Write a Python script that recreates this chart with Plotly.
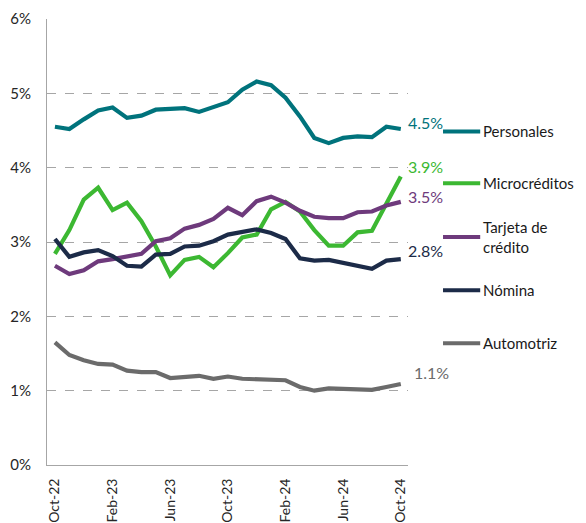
import plotly.graph_objects as go

months = ["Oct-22","Nov-22","Dec-22","Jan-23","Feb-23","Mar-23","Apr-23","May-23","Jun-23",
          "Jul-23","Aug-23","Sep-23","Oct-23","Nov-23","Dec-23","Jan-24","Feb-24","Mar-24",
          "Apr-24","May-24","Jun-24","Jul-24","Aug-24","Sep-24","Oct-24"]
tick_labels = ["Oct-22","Feb-23","Jun-23","Oct-23","Feb-24","Jun-24","Oct-24"]

personales = [4.55,4.52,4.65,4.77,4.81,4.67,4.70,4.78,4.79,4.80,4.75,4.82,4.88,
              5.05,5.16,5.11,4.94,4.69,4.40,4.33,4.40,4.42,4.41,4.55,4.52]
microcreditos = [2.84,3.16,3.57,3.73,3.43,3.53,3.28,2.94,2.55,2.76,2.80,2.66,2.85,
                 3.06,3.10,3.44,3.54,3.41,3.16,2.95,2.95,3.13,3.15,3.52,3.88]
tarjeta = [2.68,2.57,2.62,2.74,2.77,2.80,2.84,3.01,3.05,3.18,3.23,3.31,3.46,
           3.36,3.55,3.61,3.53,3.42,3.34,3.32,3.32,3.40,3.41,3.49,3.54]
nomina = [3.04,2.80,2.86,2.89,2.81,2.68,2.67,2.83,2.84,2.94,2.95,3.01,3.10,
          3.14,3.17,3.12,3.04,2.78,2.75,2.76,2.72,2.69,2.64,2.75,2.77]
automotriz = [1.65,1.48,1.41,1.36,1.35,1.27,1.25,1.25,1.17,1.19,1.20,1.16,1.19,
              1.16,1.15,1.15,1.14,1.05,1.00,1.03,1.02,1.02,1.01,1.05,1.09]

series_names = ["Personales","Microcréditos","Tarjeta de<br>crédito","Nómina","Automotriz"]
series_values = [personales, microcreditos, tarjeta, nomina, automotriz]
colors = ["#00737C","#3CB832","#6E3A7C","#1C2B48","#6B6B6B"]
end_labels = ["4.5%","3.9%","3.5%","2.8%","1.1%"]
end_label_shift = [7,10,5,9,11]
legend_y = [0.748,0.632,0.511,0.392,0.273]

FONT = "Lato"
fig = go.Figure()
for name, vals, col in zip(series_names, series_values, colors):
    fig.add_trace(go.Scatter(x=months, y=vals, mode="lines", name=name,
                             line=dict(color=col, width=4.2), showlegend=False))

for vals, col, lab, sh in zip(series_values, colors, end_labels, end_label_shift):
    fig.add_annotation(x=months[-1], y=vals[-1], text=lab, showarrow=False,
                       xanchor="left", yanchor="middle", xshift=5 if lab != "1.1%" else 11,
                       yshift=sh, font=dict(family=FONT, size=16, color=col))

for name, col, ly in zip(series_names, colors, legend_y):
    fig.add_shape(type="line", xref="paper", yref="paper", x0=1.097, x1=1.2, y0=ly, y1=ly,
                  line=dict(color=col, width=4))
    fig.add_annotation(xref="paper", yref="paper", x=1.203, y=ly, text=name, showarrow=False,
                       xanchor="left", yanchor="middle", align="left",
                       font=dict(family=FONT, size=15, color="#1a1a1a"))

fig.update_layout(
    width=578, height=515,
    margin=dict(l=39, r=178, t=11, b=58),
    plot_bgcolor="white", paper_bgcolor="white",
    font=dict(family=FONT, size=15, color="#404040"),
    xaxis=dict(type="category", range=[-0.55, 24.5], tickmode="array",
               tickvals=tick_labels, ticktext=tick_labels, tickangle=-90,
               showgrid=False, showline=True, linecolor="#A6A6A6", linewidth=1,
               ticks="", ticklabelstandoff=7, automargin=False,
               tickfont=dict(size=14, color="#262626")),
    yaxis=dict(range=[0, 6], tickvals=[0,1,2,3,4,5,6],
               ticktext=["0%","1%","2%","3%","4%","5%","6%"],
               showgrid=True, gridcolor="#A6A6A6", griddash="dash", gridwidth=1,
               showline=True, linecolor="#A6A6A6", linewidth=1, zeroline=False,
               ticks="", ticklabelstandoff=12, automargin=False,
               tickfont=dict(size=15, color="#262626")),
)
fig.write_html("out.html")
